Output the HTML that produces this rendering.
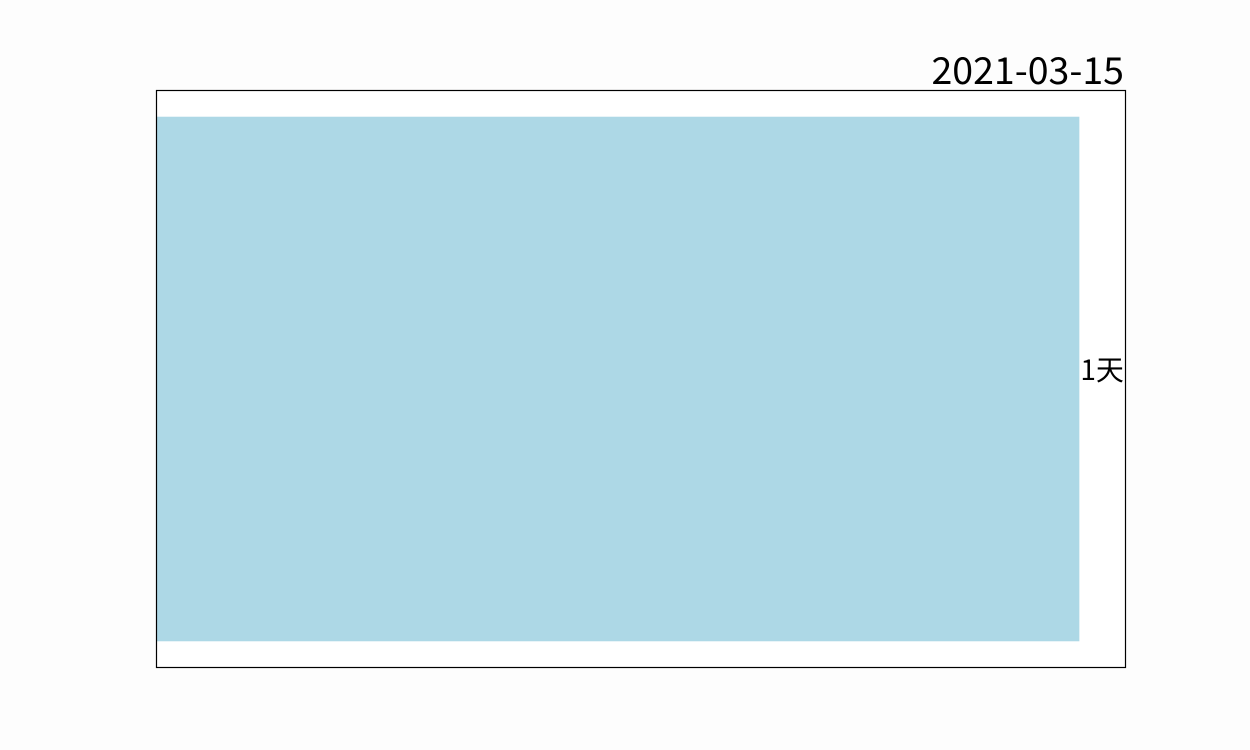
<!DOCTYPE html>
<html><head><meta charset="utf-8">
<style>
html,body{margin:0;padding:0;background:#fdfdfd;}
svg{display:block;}
text{font-family:"Noto Sans CJK SC","Liberation Sans",sans-serif;fill:#000;}
</style></head>
<body>
<svg id="chart" width="1250" height="750">
  <rect x="0" y="0" width="1250" height="750" fill="#fdfdfd"/>
  <rect x="156.5" y="90.5" width="969" height="577" fill="#ffffff" stroke="none"/>
  <g id="bars"></g>
  <rect x="156.5" y="90.5" width="969" height="577" fill="none" stroke="#000" stroke-width="1.2"/>
  <text x="1124" y="84" font-size="37.5" text-anchor="end">2021-03-15</text>
</svg>
<script>
const categories = ["2021-03-15"];
const values = [1];
const valueLabels = ["1天"];

const L=156.5, R=1125.5, T=90.5, B=667.5;
const xmax = Math.max(...values)*1.05;
const xs = v => L + (v/xmax)*(R-L);
const n = categories.length;
const ymin = -0.44, ymax = (n-1)+0.44;
const ys = v => B - (v-ymin)/(ymax-ymin)*(B-T);
const g = document.getElementById('bars');
const NS="http://www.w3.org/2000/svg";
values.forEach((v,i)=>{
  const r=document.createElementNS(NS,'rect');
  r.setAttribute('x',xs(0));
  r.setAttribute('y',ys(i+0.4));
  r.setAttribute('width',xs(v)-xs(0));
  r.setAttribute('height',ys(i-0.4)-ys(i+0.4));
  r.setAttribute('fill','#add8e6');
  
  
  g.appendChild(r);
  const t=document.createElementNS(NS,'text');
  t.setAttribute('x',xs(v)+1);
  t.setAttribute('y',ys(i)+1);
  t.setAttribute('font-size','28');
  t.textContent=valueLabels[i];
  
  
  g.appendChild(t);
});
</script>
</body></html>
